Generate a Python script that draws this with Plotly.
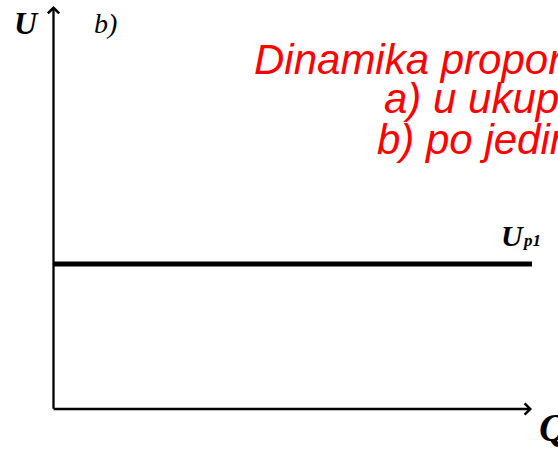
import plotly.graph_objects as go

# ---- data (in chart units) ----
q_line = [0, 10]            # quantity range of the Up1 line
u_p1 = [3.6, 3.6]           # constant unit proportional cost
q_axis_max = 10             # arrow tip of Q axis
u_axis_max = 10             # arrow tip of U axis

title_lines = ["Dinamika propor", "a) u ukup", "b) po jedin"]
label_u = "U"
label_b = "b)"
label_up = "U"
label_up_sub = "p1"
label_q = "Q"

W, H = 558, 450
X_RANGE = [-1.118, 10.543]
Y_RANGE = [-1.017, 10.149]

def px(x):
    return x / W

def py(y):
    return 1 - y / H

fig = go.Figure()

fig.add_trace(go.Scatter(
    x=q_line, y=u_p1, mode="lines",
    line=dict(color="#000000", width=5),
    hoverinfo="skip", showlegend=False,
))

annotations = []
# axes as arrows
annotations.append(dict(
    x=q_axis_max, y=0, ax=-0.03, ay=0, xref="x", yref="y", axref="x", ayref="y",
    text="", showarrow=True, arrowhead=4, arrowsize=0.95, arrowwidth=2.3,
    arrowcolor="#000000", standoff=0,
))
annotations.append(dict(
    x=0, y=u_axis_max, ax=0, ay=-0.03, xref="x", yref="y", axref="x", ayref="y",
    text="", showarrow=True, arrowhead=4, arrowsize=0.95, arrowwidth=2.3,
    arrowcolor="#000000", standoff=0,
))

serif = "Liberation Serif, Times New Roman, serif"
sans = "Liberation Sans, Arial, sans-serif"

annotations.append(dict(x=px(26), y=py(22.5), xref="paper", yref="paper",
                        text="<b><i>%s</i></b>" % label_u, showarrow=False,
                        font=dict(family=serif, size=32, color="#000000"),
                        xanchor="center", yanchor="middle"))
annotations.append(dict(x=px(105), y=py(23), xref="paper", yref="paper",
                        text="<i>%s</i>" % label_b, showarrow=False,
                        font=dict(family=serif, size=28, color="#000000"),
                        xanchor="center", yanchor="middle"))
annotations.append(dict(x=px(512), y=py(235), xref="paper", yref="paper",
                        text="<b><i>%s</i></b>" % label_up, showarrow=False,
                        font=dict(family=serif, size=30, color="#000000"),
                        xanchor="center", yanchor="middle"))
annotations.append(dict(x=px(531), y=py(240), xref="paper", yref="paper",
                        text="<b><i>%s</i></b>" % label_up_sub, showarrow=False,
                        font=dict(family=serif, size=17, color="#000000"),
                        xanchor="center", yanchor="middle"))
annotations.append(dict(x=px(553), y=py(427), xref="paper", yref="paper",
                        text="<b><i>%s</i></b>" % label_q, showarrow=False,
                        font=dict(family=serif, size=40, color="#000000"),
                        xanchor="center", yanchor="middle"))

title_x = [252, 382, 375]
title_y = [59, 99, 139]
for t, xx, yy in zip(title_lines, title_x, title_y):
    annotations.append(dict(x=px(xx), y=py(yy), xref="paper", yref="paper",
                            text="<i>%s</i>" % t, showarrow=False,
                            font=dict(family=sans, size=42, color="#FF0000"),
                            xanchor="left", yanchor="middle"))

fig.update_layout(
    width=W, height=H,
    margin=dict(l=0, r=0, t=0, b=0),
    paper_bgcolor="#FFFFFF", plot_bgcolor="#FFFFFF",
    xaxis=dict(range=X_RANGE, visible=False, fixedrange=True),
    yaxis=dict(range=Y_RANGE, visible=False, fixedrange=True),
    annotations=annotations,
    showlegend=False,
)

fig.write_html(
    "out.html",
    config={"displayModeBar": False},
    post_script="document.body.style.margin='0';document.body.style.overflow='hidden';",
)
